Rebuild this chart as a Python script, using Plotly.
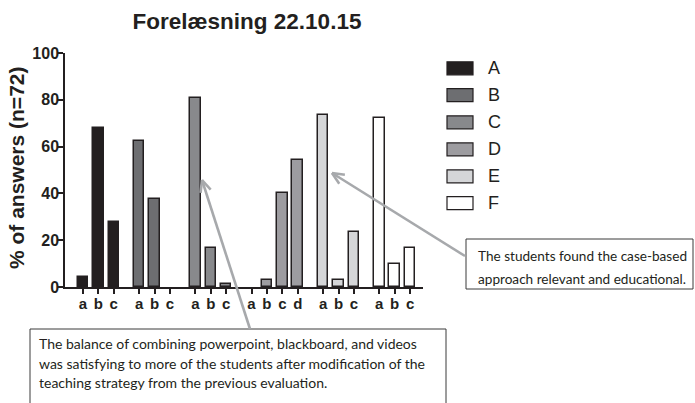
import math
import plotly.graph_objects as go

# Survey results, % of answers (n=72)
groups = ["A", "B", "C", "D", "E", "F"]
options = [["a", "b", "c"], ["a", "b", "c"], ["a", "b", "c"],
           ["a", "b", "c", "d"], ["a", "b", "c"], ["a", "b", "c"]]
values = [[4.2, 68.1, 27.8],
          [62.5, 37.5, 0.0],
          [80.6, 16.7, 1.4],
          [0.0, 2.8, 40.3, 54.2],
          [73.6, 2.8, 23.6],
          [72.2, 9.7, 16.7]]
fills = ["#231f20", "#6d6e71", "#88898c", "#9d9ca0", "#d5d6d8", "#ffffff"]
y_ticks = [0, 20, 40, 60, 80, 100]

title_text = "Forelæsning 22.10.15"
y_title = "% of answers (n=72)"
note_right = ["The students found the case-based",
              "approach relevant and educational."]
note_bottom = ["The balance of combining powerpoint, blackboard, and videos",
               "was satisfying to more of the students after modification of the",
               "teaching strategy from the previous evaluation."]

W, H = 695, 403
L, R, T, B = 65, 423, 53, 287          # plot area in pixels
INK = "#231f20"
ARROW = "#a7a9ac"
FONT = "Liberation Sans, Arial, sans-serif"
NOTE_FONT = "Lato, Liberation Sans, sans-serif"

GAP = 1.65
BAR_W = 0.68

fig = go.Figure()
tickvals, ticktext = [], []
pos = 0.0
for g, opts, vals, col in zip(groups, options, values, fills):
    xs = [pos + i for i in range(len(opts))]
    # empty bars get no outline so nothing shows on the baseline
    edge_w = [1.5 if v > 0 else 0 for v in vals]
    fig.add_trace(go.Bar(x=xs, y=vals, width=BAR_W, name=g,
                         marker=dict(color=col, line=dict(color=INK, width=edge_w)),
                         showlegend=False))
    tickvals += xs
    ticktext += opts
    pos = xs[-1] + GAP

x_lo = -1.17
x_hi = tickvals[-1] + 0.84


def px(xp):
    return (xp - L) / (R - L)


def py(yp):
    return (B - yp) / (B - T)


shapes = []
annotations = []

# legend
leg_rows = [68.3, 95.2, 122.3, 149.4, 176.3, 203.2]
for g, col, yc in zip(groups, fills, leg_rows):
    shapes.append(dict(type="rect", xref="paper", yref="paper",
                       x0=px(447), x1=px(473), y0=py(yc + 6.5), y1=py(yc - 6.5),
                       fillcolor=col, line=dict(color=INK, width=1.2)))
    annotations.append(dict(xref="paper", yref="paper", x=px(486), y=py(yc),
                            xanchor="left", yanchor="middle", showarrow=False,
                            text=g, font=dict(family=FONT, size=18, color=INK)))

# note boxes
shapes.append(dict(type="rect", xref="paper", yref="paper",
                   x0=px(466), x1=px(693), y0=py(289), y1=py(239),
                   line=dict(color="#3a3a3a", width=1), fillcolor="white"))
shapes.append(dict(type="rect", xref="paper", yref="paper",
                   x0=px(30), x1=px(446), y0=py(415), y1=py(329),
                   line=dict(color="#3a3a3a", width=1), fillcolor="white"))
for i, line in enumerate(note_right):
    annotations.append(dict(xref="paper", yref="paper", x=px(476), y=py(256 + 23 * i),
                            xanchor="left", yanchor="middle", showarrow=False,
                            text=line, font=dict(family=NOTE_FONT, size=13.6, color="#231f20")))
for i, line in enumerate(note_bottom):
    annotations.append(dict(xref="paper", yref="paper", x=px(37), y=py(343 + 20 * i),
                            xanchor="left", yanchor="middle", showarrow=False,
                            text=line, font=dict(family=NOTE_FONT, size=14, color="#231f20")))


def arrow(tail, tip, head=13, spread=0.42):
    (x0, y0), (x1, y1) = tail, tip
    out = [dict(type="line", xref="paper", yref="paper",
                x0=px(x0), y0=py(y0), x1=px(x1), y1=py(y1),
                line=dict(color=ARROW, width=2.6))]
    ang = math.atan2(y0 - y1, x0 - x1)
    for s in (-spread, spread):
        hx = x1 + head * math.cos(ang + s)
        hy = y1 + head * math.sin(ang + s)
        out.append(dict(type="line", xref="paper", yref="paper",
                        x0=px(x1), y0=py(y1), x1=px(hx), y1=py(hy),
                        line=dict(color=ARROW, width=2.6)))
    return out


shapes += arrow((465, 256), (332, 173))
shapes += arrow((250, 329), (202, 180))

# y-axis title
annotations.append(dict(xref="paper", yref="paper", x=px(16), y=py(168),
                        xanchor="center", yanchor="middle", showarrow=False,
                        textangle=-90, text=y_title,
                        font=dict(family=FONT, size=21, color=INK, weight="bold")))

fig.update_layout(
    width=W, height=H,
    margin=dict(l=L, r=W - R, t=T, b=H - B),
    paper_bgcolor="white", plot_bgcolor="white",
    title=dict(text=title_text, x=(241 + 6) / W, xanchor="center",
               y=1 - 21 / H, yanchor="middle",
               font=dict(family=FONT, size=22.5, color=INK, weight="bold")),
    xaxis=dict(range=[x_lo, x_hi], tickmode="array", tickvals=tickvals, ticktext=ticktext,
               showline=True, linecolor=INK, linewidth=1.5, ticks="outside",
               ticklen=5, tickwidth=1.5, tickcolor=INK, showgrid=False, zeroline=False,
               ticklabelstandoff=-3,
               tickfont=dict(family=FONT, size=15, color=INK, weight="bold")),
    yaxis=dict(range=[0, 100], tickmode="array", tickvals=y_ticks,
               showline=True, linecolor=INK, linewidth=1.5, ticks="outside",
               ticklen=5, tickwidth=1.5, tickcolor=INK, showgrid=False, zeroline=False,
               ticklabelstandoff=-4,
               tickfont=dict(family=FONT, size=16, color=INK, weight="bold")),
    shapes=shapes, annotations=annotations, bargap=0,
)

fig.write_html("out.html")
